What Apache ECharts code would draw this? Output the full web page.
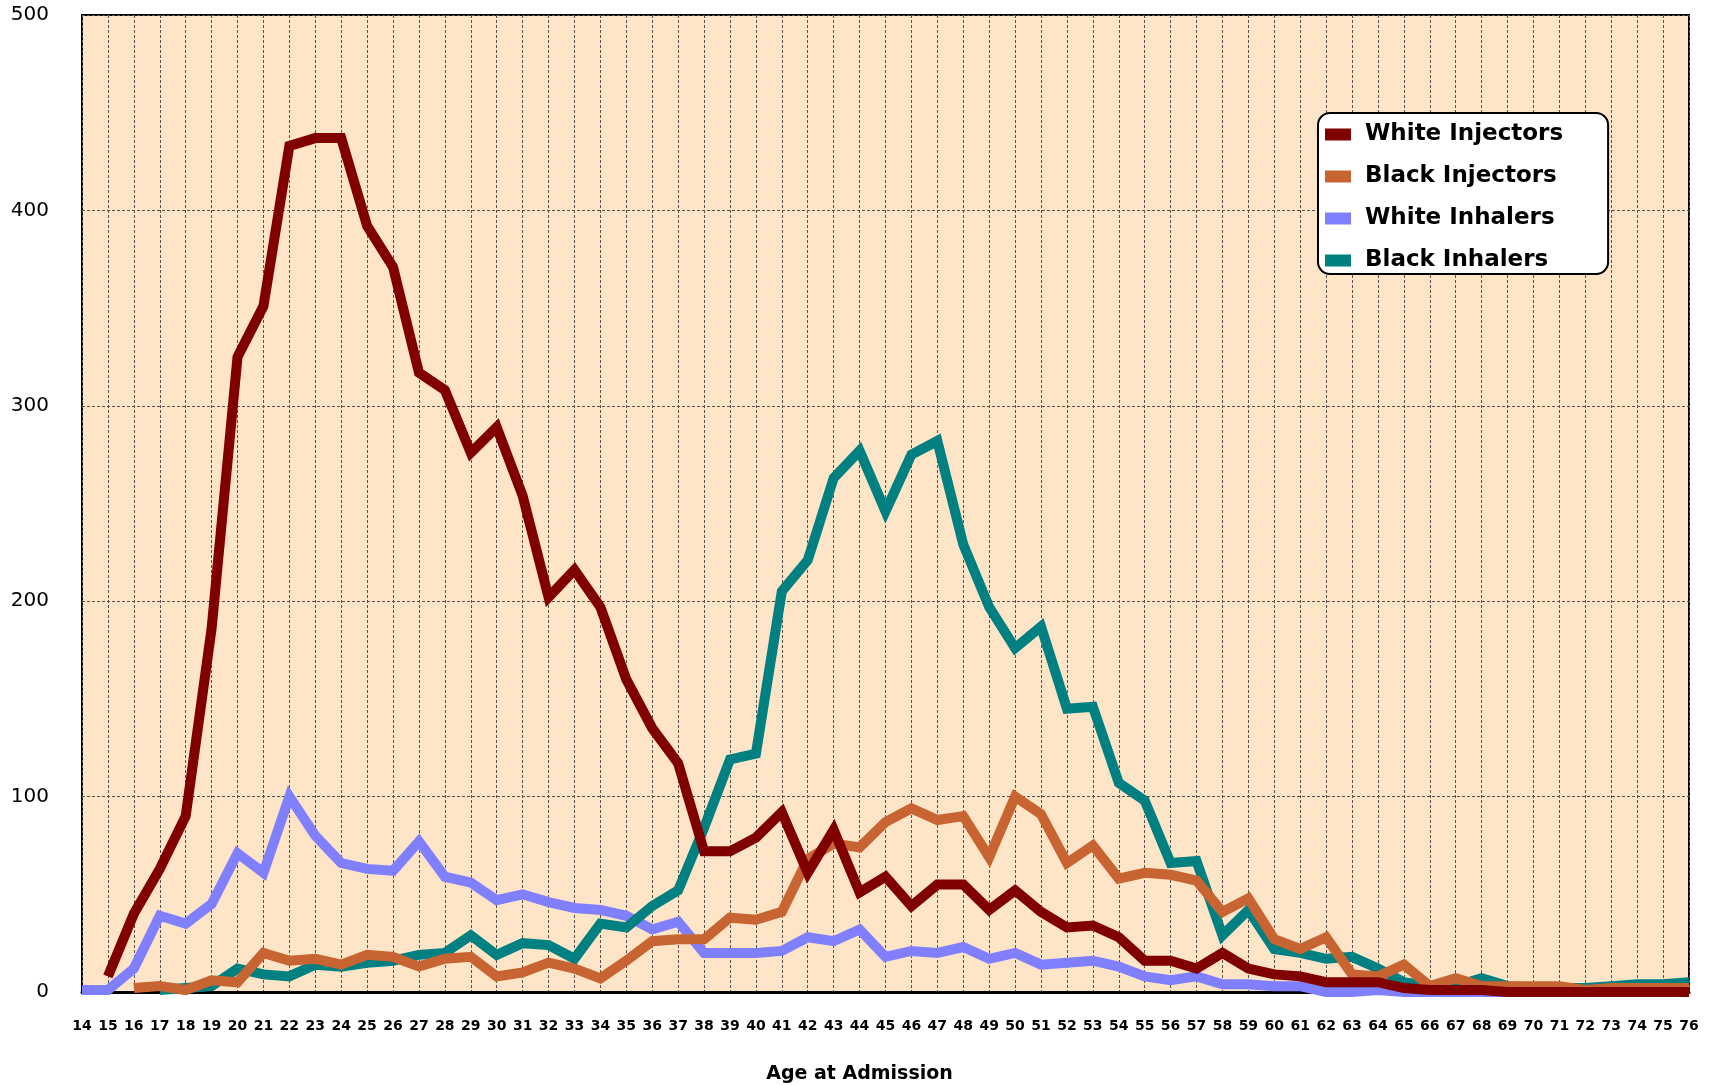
<!DOCTYPE html>
<html>
<head>
<meta charset="utf-8">
<title>Age at Admission</title>
<script src="https://cdn.jsdelivr.net/npm/echarts@6/dist/echarts.min.js"></script>
<style>
    html, body { margin: 0; padding: 0; background: #fff; }
    #age-chart { width: 1714px; height: 1085px; }
</style>
</head>
<body>
<div id="age-chart"></div>
<script>
const ages = ['14', '15', '16', '17', '18', '19', '20', '21', '22', '23', '24', '25', '26', '27', '28', '29', '30',
    '31', '32', '33', '34', '35', '36', '37', '38', '39', '40', '41', '42', '43', '44', '45', '46', '47', '48', '49',
    '50', '51', '52', '53', '54', '55', '56', '57', '58', '59', '60', '61', '62', '63', '64', '65', '66', '67', '68',
    '69', '70', '71', '72', '73', '74', '75', '76'];

const yTicks = [0, 100, 200, 300, 400, 500];

const whiteInjectors = [null, 8, 40, 63, 90, 186, 325, 351, 433, 437, 437, 392, 371, 317, 308, 276, 289,
    254, 202, 216, 197, 160, 135, 117, 72, 72, 79, 92, 61, 83, 51, 59, 44, 55, 55, 42,
    52, 41, 33, 34, 28, 16, 16, 12, 20, 12, 9, 8, 5, 5, 5, 2, 1, 1, 1,
    0, 0, 0, 0, 0, 0, 0, 0];

const blackInjectors = [null, null, 2, 3, 1, 6, 5, 20, 16, 17, 14, 19, 18, 13, 17, 18, 8,
    10, 15, 12, 7, 16, 26, 27, 27, 38, 37, 41, 68, 76, 74, 87, 94, 88, 90, 69,
    100, 91, 66, 75, 58, 61, 60, 57, 41, 48, 27, 22, 28, 9, 8, 14, 3, 7, 3,
    3, 3, 3, 1, 2, 2, 2, 2];

const whiteInhalers = [1, 1, 12, 39, 35, 45, 71, 61, 100, 80, 66, 63, 62, 77, 59, 56, 47,
    50, 46, 43, 42, 39, 32, 36, 20, 20, 20, 21, 28, 26, 32, 18, 21, 20, 23, 17,
    20, 14, 15, 16, 13, 8, 6, 8, 4, 4, 3, 3, 0, 0, 1, 0, 0, 0, 0,
    0, 0, 0, 0, 0, 0, 0, 0];

const blackInhalers = [null, null, null, 1, 2, 3, 12, 9, 8, 14, 13, 15, 16, 19, 20, 29, 19,
    25, 24, 17, 35, 33, 44, 52, 84, 119, 122, 205, 221, 263, 277, 246, 275, 282, 229, 197,
    176, 187, 145, 146, 107, 98, 66, 67, 29, 42, 22, 20, 17, 18, 12, 5, 3, 3, 7,
    3, 2, 2, 2, 3, 4, 4, 5];

// wider face, closer to the tracked-out labels of the original
const FONT = '"DejaVu Sans", Verdana, sans-serif';
const gridLine = { color: '#5a5048', width: 1, type: [3, 2] };

function line(name, data, color, z) {
    return {
        name,
        type: 'line',
        data,
        z,
        clip: false,
        showSymbol: false,
        symbol: 'none',
        lineStyle: { color, width: 10, join: 'miter' },
        itemStyle: { color },
        emphasis: { disabled: true }
    };
}

const option = {
    animation: false,
    backgroundColor: '#ffffff',
    grid: {
        left: 82,
        right: 25,
        top: 15,
        bottom: 93,
        outerBoundsMode: 'none',
        show: true,
        backgroundColor: '#FFE5C8',
        borderColor: '#000',
        borderWidth: 2
    },
    legend: {
        orient: 'vertical',
        left: 1318,
        top: 113,
        data: ['White Injectors', 'Black Injectors', 'White Inhalers', 'Black Inhalers'],
        icon: 'rect',
        itemWidth: 26,
        itemHeight: 12,
        itemGap: 19,
        padding: [10, 45, 2, 7],
        backgroundColor: '#fff',
        borderColor: '#000',
        borderWidth: 2,
        borderRadius: 12,
        textStyle: { fontFamily: FONT, fontSize: 23, fontWeight: 'bold', color: '#000', padding: [0, 0, 0, 9] }
    },
    xAxis: {
        type: 'category',
        data: ages,
        boundaryGap: false,
        name: 'Age at Admission',
        nameLocation: 'middle',
        nameGap: 73,
        nameTextStyle: { fontFamily: FONT, fontSize: 19, fontWeight: 'bold', color: '#000', padding: [0, 52, 0, 0] },
        axisLine: { lineStyle: { color: '#000', width: 3 } },
        axisTick: { show: false },
        axisLabel: { interval: 0, margin: 27, fontFamily: FONT, fontSize: 14, fontWeight: 'bold', color: '#000' },
        splitLine: { show: true, interval: 0, lineStyle: gridLine }
    },
    yAxis: {
        type: 'value',
        min: yTicks[0],
        max: yTicks[yTicks.length - 1],
        interval: 100,
        axisLine: { show: false },
        axisTick: { show: false },
        axisLabel: { margin: 33, fontFamily: FONT, fontSize: 20, color: '#000' },
        splitLine: { show: true, lineStyle: gridLine }
    },
    series: [
        line('White Injectors', whiteInjectors, '#800000', 6),
        line('Black Injectors', blackInjectors, '#C86432', 5),
        line('White Inhalers', whiteInhalers, '#8080FF', 3),
        line('Black Inhalers', blackInhalers, '#008080', 4)
    ]
};

var myChart = echarts.init(document.getElementById('age-chart'));
myChart.setOption(option);
</script>
</body>
</html>
